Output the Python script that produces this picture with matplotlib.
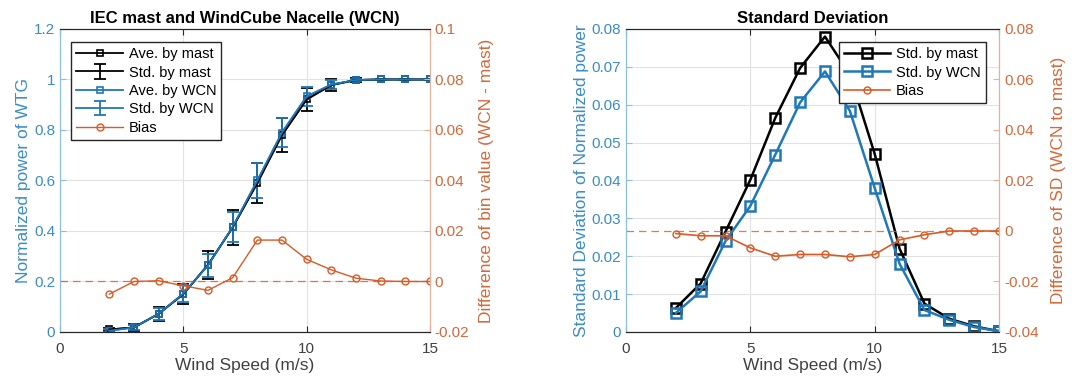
import numpy as np
import matplotlib.pyplot as plt

plt.rcParams['font.family'] = ['Liberation Sans', 'DejaVu Sans']

# wind speed bins (m/s)
wind_speed = [2, 3, 4, 5, 6, 7, 8, 9, 10, 11, 12, 13, 14, 15]

# bin averaged normalized power
ave_mast = [0.010, 0.018, 0.072, 0.150, 0.266, 0.414, 0.590, 0.780, 0.921, 0.978, 0.998, 1.000, 1.000, 1.000]
ave_wcn = [0.005, 0.018, 0.072, 0.152, 0.264, 0.416, 0.600, 0.790, 0.933, 0.980, 0.998, 1.000, 1.000, 1.000]
bias_ave = [-0.0050, 0.0000, 0.0003, -0.0017, -0.0035, 0.0015, 0.0164, 0.0164, 0.0088, 0.0046, 0.0013, 0.0002, 0.0000, 0.0000]

# standard deviation of normalized power in each bin
std_mast = [0.0063, 0.0128, 0.0265, 0.0402, 0.0565, 0.0697, 0.0780, 0.0680, 0.0470, 0.0220, 0.0075, 0.0035, 0.0015, 0.0002]
std_wcn = [0.0050, 0.0107, 0.0240, 0.0333, 0.0468, 0.0606, 0.0688, 0.0584, 0.0380, 0.0180, 0.0058, 0.0032, 0.0013, 0.0002]
bias_std = [-0.0010, -0.0019, -0.0019, -0.0067, -0.0100, -0.0093, -0.0093, -0.0102, -0.0093, -0.0035, -0.0015, 0.0000, 0.0000, 0.0000]

BLUE = '#1f78b8'
BLUE_TXT = '#3a8cc8'
BLUE_SP = '#8dbde0'
ORANGE = '#d95a24'
ORANGE_TXT = '#d4683a'
ORANGE_SP = '#e3b29c'
DARK = '#262626'


def style_axes(ax, ax2):
	ax.set_xlim(0, 15)
	ax.set_xticks([0, 5, 10, 15])
	ax.grid(True, color='#e2e2e2', linewidth=0.8)
	ax.set_axisbelow(True)
	ax.tick_params(direction='in', labelsize=11, top=True, length=4)
	ax.tick_params(axis='x', colors=DARK, labelcolor='#404040', pad=7)
	ax.tick_params(axis='y', colors=BLUE_SP, labelcolor=BLUE_TXT)
	ax2.tick_params(direction='in', labelsize=11, colors=ORANGE_SP, labelcolor=ORANGE_TXT, length=4)
	for a in (ax, ax2):
		a.spines['top'].set_color(DARK)
		a.spines['bottom'].set_color(DARK)
		a.spines['left'].set_color(BLUE_SP)
		a.spines['right'].set_color(ORANGE_SP)
	ax.set_xlabel('Wind Speed (m/s)', fontsize=12.5, color='#404040', labelpad=2)


def add_legend(ax, handles, labels, loc, anchor):
	ax.legend(handles, labels, loc=loc, bbox_to_anchor=anchor, borderaxespad=0, fontsize=10.5,
		fancybox=False, edgecolor=DARK, framealpha=1, handlelength=3.2, handletextpad=0.4,
		borderpad=0.35, labelspacing=0.3)


fig = plt.figure(figsize=(10.79, 3.82), dpi=100)

# left panel: averaged power curves with error bars
ax = fig.add_axes([0.0556, 0.1309, 0.3429, 0.7932])
ax2 = ax.twinx()
eb_m = ax.errorbar(wind_speed, ave_mast, yerr=std_mast, fmt='-', color='black', lw=1.3, capsize=4, capthick=1.3)
eb_w = ax.errorbar(wind_speed, ave_wcn, yerr=std_wcn, fmt='-', color=BLUE, lw=1.3, capsize=4, capthick=1.3)
l_m, = ax.plot(wind_speed, ave_mast, '-s', color='black', lw=1.3, ms=5, mfc='none', mew=1.2)
l_w, = ax.plot(wind_speed, ave_wcn, '-s', color=BLUE, lw=1.3, ms=5, mfc='none', mew=1.2)
l_b, = ax2.plot(wind_speed, bias_ave, '-o', color=ORANGE, lw=1.0, ms=5, mfc='none', mew=1.0)
ax2.axhline(0, color=ORANGE, lw=0.9, ls=(0, (6, 4)), alpha=0.8)
ax.set_ylim(0, 1.2)
ax.set_yticks(np.arange(0, 1.21, 0.2))
ax.set_yticklabels(['0', '0.2', '0.4', '0.6', '0.8', '1', '1.2'])
ax2.set_ylim(-0.02, 0.1)
ax2.set_yticks(np.arange(-0.02, 0.101, 0.02))
ax2.set_yticklabels(['-0.02', '0', '0.02', '0.04', '0.06', '0.08', '0.1'])
ax.set_ylabel('Normalized power of WTG', fontsize=12.5, color=BLUE_TXT, labelpad=2)
ax2.set_ylabel('Difference of bin value (WCN - mast)', fontsize=12.5, color=ORANGE_TXT, labelpad=7)
ax.set_title('IEC mast and WindCube Nacelle (WCN)', fontsize=12, fontweight='bold', pad=4)
style_axes(ax, ax2)
add_legend(ax2, [l_m, eb_m, l_w, eb_w, l_b],
	['Ave. by mast', 'Std. by mast', 'Ave. by WCN', 'Std. by WCN', 'Bias'], 'upper left', (0.03, 0.957))

# right panel: standard deviation per bin
bx = fig.add_axes([0.5802, 0.1309, 0.3457, 0.7932])
bx2 = bx.twinx()
s_m, = bx.plot(wind_speed, std_mast, '-s', color='black', lw=1.8, ms=7, mfc='none', mew=1.8)
s_w, = bx.plot(wind_speed, std_wcn, '-s', color=BLUE, lw=1.8, ms=7, mfc='none', mew=1.8)
s_b, = bx2.plot(wind_speed, bias_std, '-o', color=ORANGE, lw=1.2, ms=5, mfc='none', mew=1.0)
bx2.axhline(0, color=ORANGE, lw=0.9, ls=(0, (6, 4)), alpha=0.8)
bx.set_ylim(0, 0.08)
bx.set_yticks(np.arange(0, 0.081, 0.01))
bx.set_yticklabels(['0', '0.01', '0.02', '0.03', '0.04', '0.05', '0.06', '0.07', '0.08'])
bx2.set_ylim(-0.04, 0.08)
bx2.set_yticks(np.arange(-0.04, 0.081, 0.02))
bx2.set_yticklabels(['-0.04', '-0.02', '0', '0.02', '0.04', '0.06', '0.08'])
bx.set_ylabel('Standard Deviation of Normalized power', fontsize=12.5, color=BLUE_TXT, labelpad=2)
bx2.set_ylabel('Difference of SD (WCN to mast)', fontsize=12.5, color=ORANGE_TXT, labelpad=9)
bx.set_title('Standard Deviation', fontsize=12, fontweight='bold', pad=4)
style_axes(bx, bx2)
add_legend(bx2, [s_m, s_w, s_b], ['Std. by mast', 'Std. by WCN', 'Bias'], 'upper right', (0.965, 0.957))

plt.savefig('out.png', dpi=100)
